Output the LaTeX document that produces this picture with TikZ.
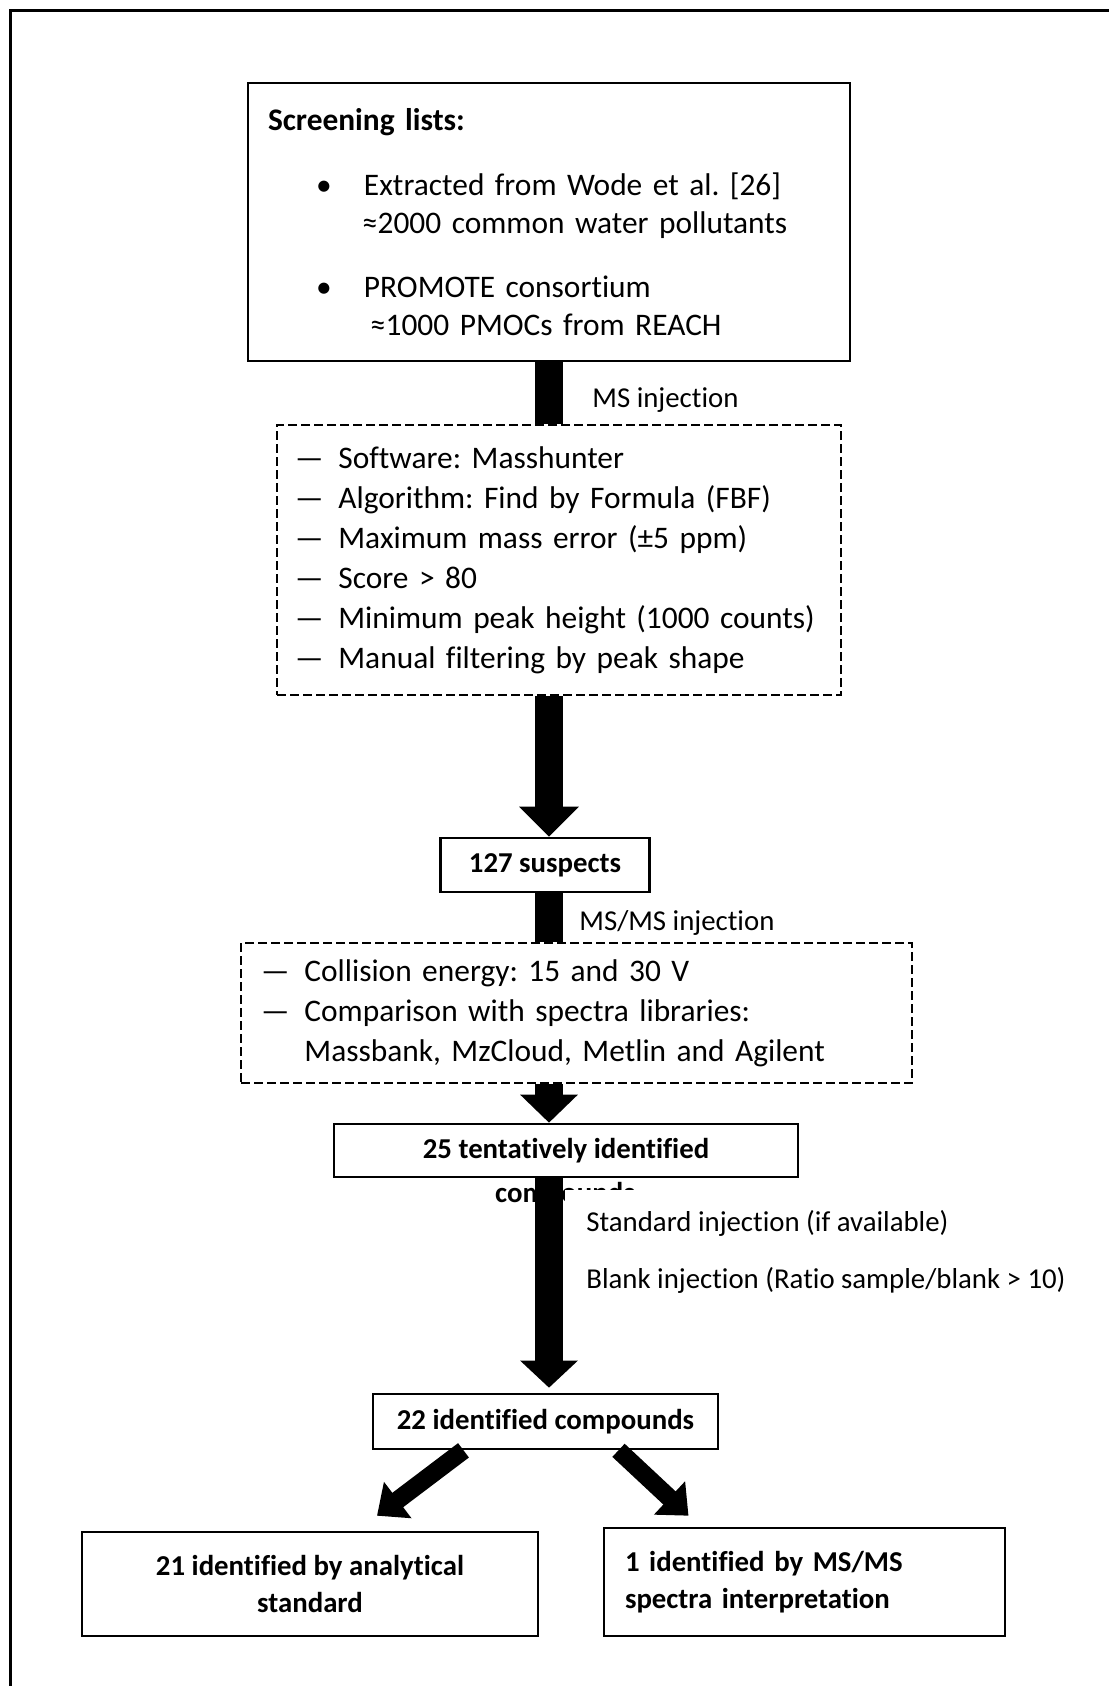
\documentclass[tikz,border=0pt]{standalone}
\usepackage{fontspec}
\setmainfont{Carlito}[Ligatures=NoCommon]
\frenchspacing
\usetikzlibrary{arrows.meta,positioning}

\newcommand{\listfont}{\fontsize{15.7pt}{19pt}\selectfont}
\newcommand{\dashfont}{\fontsize{15.7pt}{20pt}\selectfont}
\newcommand{\labelfont}{\fontsize{14.4pt}{18.5pt}\selectfont}

\begin{document}
\begin{tikzpicture}[x=0.5pt, y=-0.5pt]

        % Setup the style for the boxes
        \tikzset{box style/.style={draw,
                                   line width=1.3pt,
                                   inner sep=0pt,
                                   font=\labelfont\bfseries},
                 dash style/.style={draw,
                                    dash pattern=on 4.5pt off 2pt,
                                    line width=1.3pt,
                                    inner ysep=0pt,
                                    align=left,
                                    font=\dashfont},
                 label style/.style={anchor=west, inner sep=0pt, font=\labelfont},
                 bar style/.style={line width=14pt},
                 arrow style/.style={line width=14pt,
                                     -{Triangle[width=29pt, length=15pt]}},
                 side arrow/.style={line width=9pt,
                                    -{Triangle[width=22pt, length=13pt]}}}

        \useasboundingbox (0,0) rectangle (1109,1686);
        \draw[line width=1.5pt] (10,1686) -- (10,11) -- (1109,11);
        \coordinate (axis) at (549,0);

        % Draw the boxes
        \node[box style, minimum width=301pt, minimum height=139pt,
              text width=281pt, align=left, font=\listfont] at (549, 222) (sl)
             {\textbf{Screening lists:}\\[13.5pt]
              \makebox[48pt][l]{\hspace*{24pt}\textbullet}Extracted from Wode et al. [26]\\
              \hspace*{47pt}≈2000 common water pollutants\\[13pt]
              \makebox[48pt][l]{\hspace*{24pt}\textbullet}PROMOTE consortium\\
              \hspace*{51pt}≈1000 PMOCs from REACH};
        \node[dash style, minimum width=282pt, minimum height=135pt,
              text width=264pt, inner xsep=9pt] at (559, 560) (ms)
             {\begin{tabular}{@{}l@{\hspace{7.5pt}}l@{}}
              \textemdash & Software: Masshunter\\
              \textemdash & Algorithm: Find by Formula (FBF)\\
              \textemdash & Maximum mass error (±5 ppm)\\
              \textemdash & Score > 80\\
              \textemdash & Minimum peak height (1000 counts)\\
              \textemdash & Manual filtering by peak shape
              \end{tabular}};
        \node[box style, minimum width=104.5pt, minimum height=27pt] at (545, 865) (sus) {127 suspects};
        \node[dash style, minimum width=335.5pt, minimum height=70pt,
              text width=315.5pt, inner xsep=10pt] at (576.5, 1013) (msms)
             {\begin{tabular}{@{}l@{\hspace{7.5pt}}l@{}}
              \textemdash & Collision energy: 15 and 30 V\\
              \textemdash & Comparison with spectra libraries:\\
                          & Massbank, MzCloud, Metlin and Agilent
              \end{tabular}};
        \node[box style, minimum width=232pt, minimum height=26.5pt] at (566, 1150.5) (tent) {25 tentatively identified};
        \node[inner sep=0pt, font=\labelfont\bfseries] at (565, 1195) (comp) {compounds};
        \node[box style, minimum width=172.5pt, minimum height=27.5pt] at (545.5, 1421.5) (idc) {22 identified compounds};
        \node[box style, minimum width=228pt, minimum height=52pt, align=center] at (310, 1584) (ana)
             {21 identified by analytical\\standard};
        \node[box style, minimum width=200.5pt, minimum height=54pt,
              text width=179.5pt, inner xsep=10.5pt, align=left] at (804.5, 1582) (spec)
             {1 identified by MS/MS\\spectra interpretation};

        % Connect the boxes with arrows
        \draw[bar style] (sl.south -| axis) -- (ms.north -| axis);
        \draw[arrow style] (ms.south -| axis) -- (sus.north -| axis);
        \draw[bar style] (sus.south -| axis) -- (msms.north -| axis);
        \draw[arrow style, -{Triangle[width=28pt, length=14pt]}] (msms.south -| axis) -- (tent.north -| axis);
        \draw[arrow style, -{Triangle[width=28pt, length=13.5pt]}, shorten >=2.5pt] (tent.south -| axis) -- (idc.north -| axis);
        \draw[side arrow] ([xshift=-41pt]idc.south) -- ([xshift=33.5pt, yshift=7.5pt]ana.north);
        \draw[side arrow] ([xshift=36.5pt]idc.south) -- ([xshift=-58pt, yshift=5.5pt]spec.north);

        % Labels on the arrows
        \node[label style] at (592, 400) (lms) {MS injection};
        \node[label style] at (579, 923) (lmsms) {MS/MS injection};
        \node[label style, anchor=north west, fill=white, minimum height=33pt,
              inner xsep=10.5pt] at (565, 1190) (lstd) {Standard injection (if available)};
        \node[label style] at (586, 1280) (lblk) {Blank injection (Ratio sample/blank > 10)};
\end{tikzpicture}
\end{document}
